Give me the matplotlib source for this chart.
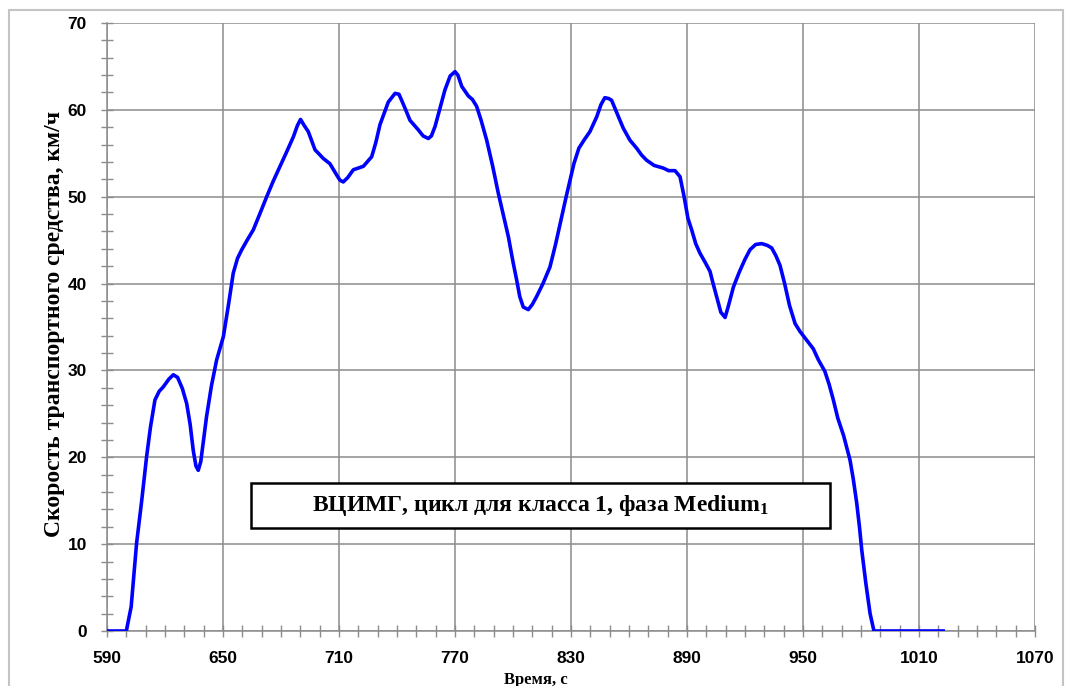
import numpy as np
import matplotlib
matplotlib.use("Agg")
import matplotlib.pyplot as plt
from matplotlib.ticker import MultipleLocator
from matplotlib.patches import Rectangle

plt.rcParams['mathtext.fontset'] = 'custom'
plt.rcParams['mathtext.bf'] = 'Liberation Serif:bold'
plt.rcParams['mathtext.rm'] = 'Liberation Serif:bold'
plt.rcParams['mathtext.default'] = 'bf'

# time, s
time_s = [590, 600, 602.5, 605.3, 608, 610.5, 612.5, 614.8, 617, 619.1, 622, 624.3,
          626.5, 629, 631.2, 633, 634.6, 636, 637.2, 638.5, 641.5, 644, 646.7, 650.2,
          653, 655.3, 657.5, 659.7, 662.5, 665.7, 669, 672.6, 676, 679.5, 683, 686.4,
          688.5, 690.1, 692, 694.1, 697.6, 701.9, 705.3, 708.8, 710.5, 712.2, 714.5,
          717.4, 722.6, 726.9, 729, 731.2, 733, 735.5, 739, 741, 742.4, 744.5, 746.7,
          751, 753.5, 756.2, 757.8, 759.7, 762, 764.8, 767.5, 770, 771.5, 773.5, 776.9,
          779, 781.2, 783.5, 786.4, 789.5, 792.4, 795, 797.6, 800, 801.9, 803.5, 805.3,
          807.9, 810, 812.2, 815.5, 819.1, 822, 825, 827.5, 829.5, 831.5, 834.1, 837,
          839.8, 843.3, 845.5, 847.5, 849.5, 851, 854, 857, 860.5, 863.9, 866.5, 869.1,
          873, 877.7, 880.5, 883.8, 886.4, 888.5, 890.5, 892.4, 894.5, 896.7, 899.5,
          901.9, 903.5, 905.3, 907.5, 909.7, 911.5, 914, 917, 920, 922.6, 925.5, 928.6,
          931.5, 933.8, 936, 938.1, 940.5, 943, 945.9, 948.4, 951.5, 955.3, 958, 961.3,
          963.5, 965.7, 968, 971, 974.3, 976, 977.8, 979.2, 980.4, 982.5, 984.7, 986.7,
          1022.5]
# speed, km/h
speed_kmh = [0, 0, 2.8, 10.1, 15.1, 20.1, 23.5, 26.6, 27.6, 28.1, 29.0, 29.5,
             29.2, 27.9, 26.2, 23.8, 20.8, 19.0, 18.5, 19.5, 24.7, 28.2, 31.2, 33.9,
             37.8, 41.2, 42.9, 43.9, 45.0, 46.2, 48.0, 50.0, 51.8, 53.5, 55.2, 56.9,
             58.2, 58.9, 58.2, 57.5, 55.4, 54.4, 53.8, 52.5, 51.9, 51.7, 52.2,
             53.1, 53.5, 54.6, 56.2, 58.3, 59.4, 60.9, 61.9, 61.8, 61.1, 60.0, 58.8,
             57.7, 57.0, 56.7, 57.0, 58.1, 60.0, 62.3, 63.9, 64.4, 64.0, 62.7, 61.6,
             61.2, 60.4, 58.8, 56.5, 53.5, 50.4, 47.9, 45.4, 42.5, 40.4, 38.5, 37.3,
             37.0, 37.6, 38.5, 40.0, 41.9, 44.5, 47.5, 50.0, 51.9, 53.8, 55.6, 56.6,
             57.5, 59.2, 60.6, 61.4, 61.3, 61.1, 59.5, 57.9, 56.5, 55.6, 54.8, 54.2,
             53.6, 53.3, 53.0, 53.0, 52.3, 50.0, 47.5, 46.2, 44.6, 43.5, 42.4,
             41.4, 40.0, 38.5, 36.7, 36.1, 37.5, 39.6, 41.3, 42.8, 43.9, 44.5, 44.6,
             44.4, 44.1, 43.2, 42.1, 40.0, 37.5, 35.4, 34.5, 33.6, 32.5, 31.2, 29.9,
             28.4, 26.6, 24.5, 22.5, 19.7, 17.5, 14.7, 12.0, 9.3, 5.5, 2.0, 0,
             0]

x_ticks = [590, 650, 710, 770, 830, 890, 950, 1010, 1070]
y_ticks = [0, 10, 20, 30, 40, 50, 60, 70]

fig = plt.figure(figsize=(10.66, 6.86), dpi=100)
ax = fig.add_axes([107/1066, 1 - 631/686, (1035 - 107)/1066, (631 - 23)/686])

ax.plot(time_s, speed_kmh, color='#0000ff', lw=2.6, solid_joinstyle='round', zorder=3)

ax.set_xlim(590, 1070)
ax.set_ylim(0, 70)
ax.set_xticks(x_ticks)
ax.set_yticks(y_ticks)
ax.xaxis.set_minor_locator(MultipleLocator(10))
ax.yaxis.set_minor_locator(MultipleLocator(2))
ax.grid(True, which='major', color='#8c8c8c', lw=1.1)
ax.set_axisbelow(True)
for s in ['top', 'right']:
    ax.spines[s].set_visible(False)
for s in ['left', 'bottom']:
    ax.spines[s].set_color('#8c8c8c')
    ax.spines[s].set_linewidth(1.1)
ax.tick_params(which='both', direction='inout', color='#8c8c8c', width=1.0)
ax.tick_params(which='major', length=9, pad=10)
ax.tick_params(which='minor', length=8)
for lab in ax.get_xticklabels() + ax.get_yticklabels():
    lab.set_fontfamily('Liberation Sans')
    lab.set_fontweight('bold')
    lab.set_fontsize(12.5)

ax.set_ylabel('Скорость транспортного средства, км/ч', fontfamily='Liberation Serif',
              fontweight='bold', fontsize=17)
ax.yaxis.set_label_coords(-0.045, 0.505)
fig.text(536/1066, 1 - 680/686, 'Время, с', fontfamily='Liberation Serif',
         fontweight='bold', fontsize=12, ha='center', va='center')

# caption box
ax.add_patch(Rectangle((664.5, 11.9), 299.5, 5.1, facecolor='white', edgecolor='black',
                       lw=1.8, zorder=4))
ax.text(814, 14.45, 'ВЦИМГ, цикл для класса 1, фаза Medium$_{1}$',
        fontfamily='Liberation Serif', fontweight='bold', fontsize=17,
        ha='center', va='center', zorder=5)

# outer frame
fig.add_artist(Rectangle((9/1066, -0.02), (1063 - 9)/1066, 1.02 - 10/686,
                         transform=fig.transFigure, fill=False, edgecolor='#c4c4c4',
                         lw=1.5, clip_on=False))

fig.savefig('out.png', dpi=100)
